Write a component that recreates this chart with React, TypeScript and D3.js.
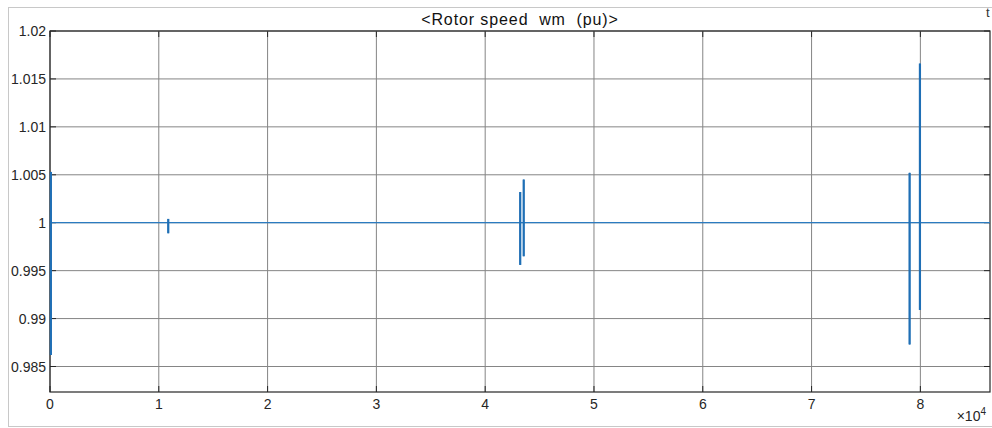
import React from "react";
import { scaleLinear, line } from "d3";

// time in seconds, rotor speed in pu
const eventTimes = [80, 10870, 43220, 43540, 79010, 79960];
const eventHigh = [1.0053, 1.0004, 1.0032, 1.0045, 1.0052, 1.0166];
const eventLow = [0.9862, 0.9989, 0.9956, 0.9965, 0.9873, 0.9909];
const baseSpeed = 1.0;
const endTime = 86400;

const xTicks = [0, 1, 2, 3, 4, 5, 6, 7, 8];
const yTicks = [0.985, 0.99, 0.995, 1, 1.005, 1.01, 1.015, 1.02];
const yTickLabels = ["0.985", "0.99", "0.995", "1", "1.005", "1.01", "1.015", "1.02"];

export default function App() {
  const width = 992;
  const height = 428;
  const left = 50;
  const right = 990;
  const top = 31;
  const bottom = 392;

  const xScale = scaleLinear().domain([0, endTime]).range([left, right]);
  const yScale = scaleLinear().domain([0.98234, 1.02]).range([bottom, top]);

  // trace: flat at 1 pu, with a jump at every event
  const trace: [number, number][] = [[0, baseSpeed]];
  eventTimes.forEach((t, i) => {
    trace.push([t, baseSpeed], [t, eventHigh[i]], [t, eventLow[i]], [t, baseSpeed]);
  });
  trace.push([endTime, baseSpeed]);

  const path = line<[number, number]>()
    .x((d) => xScale(d[0]))
    .y((d) => yScale(d[1]));

  const font = "'Liberation Sans', Arial, Helvetica, sans-serif";

  const gridX = xTicks.map((t) => (
    <g key={"x" + t}>
      <line x1={xScale(t * 1e4)} x2={xScale(t * 1e4)} y1={top} y2={bottom} stroke="#858585" strokeWidth={1} />
      <line x1={xScale(t * 1e4)} x2={xScale(t * 1e4)} y1={bottom} y2={bottom - 6} stroke="#262626" />
      <line x1={xScale(t * 1e4)} x2={xScale(t * 1e4)} y1={top} y2={top + 6} stroke="#262626" />
      <text x={xScale(t * 1e4)} y={bottom + 17} textAnchor="middle" fontSize={14} fill="#262626">
        {t}
      </text>
    </g>
  ));

  const gridY = yTicks.map((v, i) => (
    <g key={"y" + v}>
      <line x1={left} x2={right} y1={yScale(v)} y2={yScale(v)} stroke="#858585" strokeWidth={1} />
      <line x1={left} x2={left + 6} y1={yScale(v)} y2={yScale(v)} stroke="#262626" />
      <line x1={right} x2={right - 6} y1={yScale(v)} y2={yScale(v)} stroke="#262626" />
      <text x={left - 4} y={yScale(v) + 5} textAnchor="end" fontSize={14} fill="#262626">
        {yTickLabels[i]}
      </text>
    </g>
  ));

  const spikes = eventTimes.map((t, i) => (
    <line
      key={"s" + i}
      x1={xScale(t)}
      x2={xScale(t)}
      y1={yScale(eventHigh[i])}
      y2={yScale(eventLow[i])}
      stroke="#1f6fb5"
      strokeWidth={2.2}
    />
  ));

  return (
    <svg
      width={width}
      height={height}
      style={{ position: "absolute", left: 0, top: 0, fontFamily: font, background: "#fff" }}
    >
      <rect x={8.5} y={7.5} width={width} height={419} fill="#fff" stroke="#c8c8c8" />
      <rect x={left} y={top} width={right - left} height={bottom - top} fill="#fff" />
      {gridX}
      {gridY}
      <rect x={left} y={top} width={right - left} height={bottom - top} fill="none" stroke="#262626" strokeWidth={1.2} />
      <path d={path(trace) || ""} fill="none" stroke="#2b7bc0" strokeWidth={1.3} />
      {spikes}
      <text
        x={(left + right) / 2}
        y={25}
        textAnchor="middle"
        fontSize={16}
        letterSpacing={0.9}
        fill="#111"
        style={{ whiteSpace: "pre" }}
      >
        {"<Rotor speed  wm  (pu)>"}
      </text>
      <text x={986} y={17} fontSize={13} fill="#333">
        t
      </text>
      <text x={986} y={421} textAnchor="end" fontSize={14} fill="#262626">
        {"\u00d7"}10
        <tspan fontSize={10} dy={-6}>
          4
        </tspan>
      </text>
    </svg>
  );
}
